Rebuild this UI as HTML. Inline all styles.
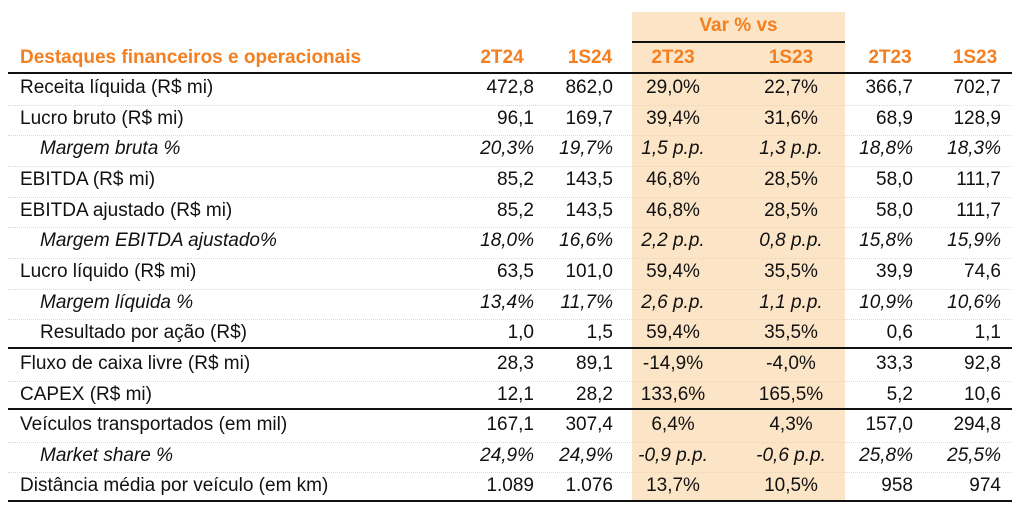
<!DOCTYPE html>
<html><head><meta charset="utf-8"><style>
body{margin:0;width:1020px;height:511px;background:#fff;position:relative;overflow:hidden;font-family:"Liberation Sans",sans-serif;color:#111}
.hl{position:absolute;left:632px;top:12px;width:213px;height:488px;background:#FCE4C6}
.t{position:absolute;font-size:19px;white-space:nowrap;line-height:22px}
.h{color:#F47F20;font-weight:bold}
.ln{position:absolute;height:1.5px;background:#111}
.dl{position:absolute;left:8px;width:1004px;border-top:1px dotted #d8d8d8;height:0}
</style></head><body>
<div class="hl"></div>
<div class="t h" style="left:632px;width:213px;text-align:center;top:15px">Var % vs</div>
<div class="ln" style="left:632px;width:213px;top:41px"></div>
<div class="ln" style="left:8px;width:1004px;top:72px"></div>
<div class="ln" style="left:8px;width:1004px;top:347px"></div>
<div class="ln" style="left:8px;width:1004px;top:408px"></div>
<div class="ln" style="left:8px;width:1004px;top:500px"></div>
<div id="tbl"></div>
<script>
const headers=["2T24","1S24","2T23","1S23","2T23","1S23"];
const labels=["Receita líquida (R$ mi)","Lucro bruto (R$ mi)","Margem bruta %","EBITDA (R$ mi)","EBITDA ajustado (R$ mi)","Margem EBITDA ajustado%","Lucro líquido (R$ mi)","Margem líquida %","Resultado por ação (R$)","Fluxo de caixa livre (R$ mi)","CAPEX (R$ mi)","Veículos transportados (em mil)","Market share %","Distância média por veículo (em km)"];
const italic=[0,0,1,0,0,1,0,1,0,0,0,0,1,0];
const indent=[0,0,1,0,0,1,0,1,1,0,0,0,1,0];
const values=[
["472,8","862,0","29,0%","22,7%","366,7","702,7"],
["96,1","169,7","39,4%","31,6%","68,9","128,9"],
["20,3%","19,7%","1,5 p.p.","1,3 p.p.","18,8%","18,3%"],
["85,2","143,5","46,8%","28,5%","58,0","111,7"],
["85,2","143,5","46,8%","28,5%","58,0","111,7"],
["18,0%","16,6%","2,2 p.p.","0,8 p.p.","15,8%","15,9%"],
["63,5","101,0","59,4%","35,5%","39,9","74,6"],
["13,4%","11,7%","2,6 p.p.","1,1 p.p.","10,9%","10,6%"],
["1,0","1,5","59,4%","35,5%","0,6","1,1"],
["28,3","89,1","-14,9%","-4,0%","33,3","92,8"],
["12,1","28,2","133,6%","165,5%","5,2","10,6"],
["167,1","307,4","6,4%","4,3%","157,0","294,8"],
["24,9%","24,9%","-0,9 p.p.","-0,6 p.p.","25,8%","25,5%"],
["1.089","1.076","13,7%","10,5%","958","974"]];
const colCenter=[502,590,673,791,890,975];
const colRight=[534,613,null,null,913,1001];
const tbl=document.getElementById('tbl');
function mk(txt,css){const d=document.createElement('div');d.className='t';d.textContent=txt;d.style.cssText=css;tbl.appendChild(d);return d;}
let h=mk("Destaques financeiros e operacionais","left:20px;top:47px");h.classList.add('h');


headers.forEach((s,i)=>{const d=mk(s,`left:${colCenter[i]-50}px;width:100px;text-align:center;top:47px`);d.classList.add('h');

});
labels.forEach((l,r)=>{const y=77+r*30.65;
if(r>0&&r!==9&&r!==11){const dl=document.createElement('div');dl.className='dl';dl.style.top=(y-3)+'px';tbl.appendChild(dl);

}
const st=italic[r]?'font-style:italic;':'';
const d=mk(l,`left:${indent[r]?40:20}px;top:${y}px;${st}`);


values[r].forEach((v,c)=>{let css;
if(colRight[c]!==null)css=`left:${colRight[c]-120}px;width:120px;text-align:right;`;else css=`left:${colCenter[c]-60}px;width:120px;text-align:center;`;
const e=mk(v,css+`top:${y}px;${st}`);

});});
</script>
</body></html>
